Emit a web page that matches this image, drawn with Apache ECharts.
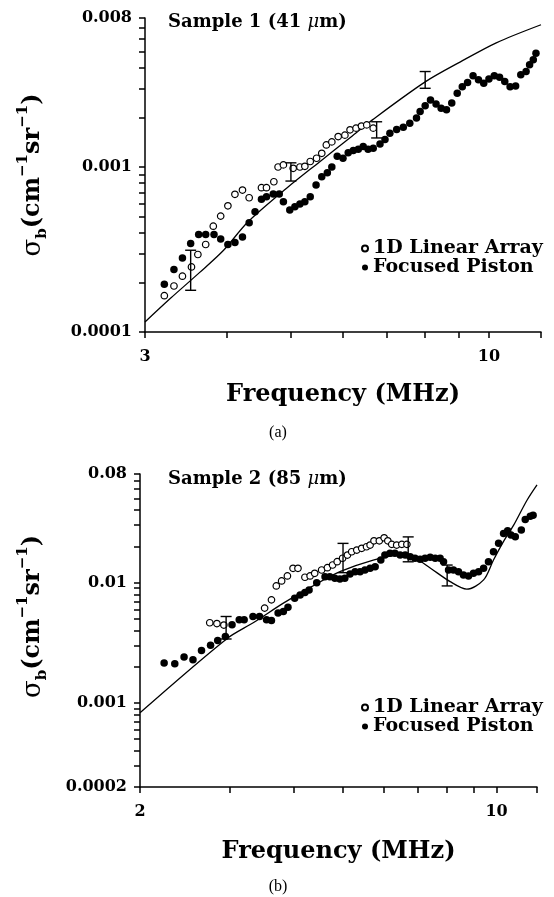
<!DOCTYPE html>
<html><head><meta charset="utf-8">
<script src="https://cdn.jsdelivr.net/npm/echarts@6/dist/echarts.min.js"></script>
<style>html,body{margin:0;padding:0;background:#fff}#c{width:554px;height:897px}</style>
</head><body><div id="c"></div><script>
// ---------- Panel (a): Sample 1 (41 um) ----------
const aTheoryF = [3.00, 3.28, 3.63, 3.95, 4.30, 4.93, 5.52, 6.17, 6.65, 8.00, 9.05, 10.26, 12.0];
const aTheoryS = [0.000115, 0.000160, 0.000229, 0.000313, 0.000464, 0.000746, 0.00107, 0.00152, 0.00193, 0.00328, 0.00434, 0.00566, 0.00728];
const aOpenF = [3.21,3.32,3.42,3.53,3.61,3.71,3.81,3.91,4.01,4.11,4.22,4.32,4.51,4.59,4.71,4.78,4.87,5.04,5.16,5.25,5.35,5.47,5.57,5.66,5.77,5.90,6.04,6.15,6.28,6.40,6.52,6.67];
const aOpenS = [0.000166,0.000190,0.000218,0.000248,0.000295,0.000339,0.000438,0.000504,0.000582,0.000683,0.000725,0.000651,0.000749,0.000749,0.000814,0.00100,0.00103,0.000982,0.00100,0.00101,0.00108,0.00113,0.00121,0.00136,0.00142,0.00153,0.00156,0.00168,0.00172,0.00177,0.00180,0.00172];
const aFillF = [3.21,3.32,3.42,3.52,3.62,3.71,3.82,3.91,4.01,4.11,4.22,4.32,4.41,4.51,4.59,4.70,4.80,4.87,4.98,5.07,5.16,5.25,5.35,5.46,5.57,5.68,5.77,5.88,6.00,6.11,6.22,6.33,6.44,6.55,6.67,6.83,6.95,7.07,7.24,7.41,7.58,7.76,7.86,8.00,8.15,8.31,8.46,8.62,8.78,8.95,9.11,9.28,9.46,9.64,9.82,10.00,10.19,10.38,10.57,10.77,10.98,11.18,11.39,11.53,11.68,11.79];
const aFillS = [0.000195,0.000239,0.000281,0.000344,0.000390,0.000390,0.000390,0.000366,0.000339,0.000349,0.000377,0.000459,0.000535,0.000637,0.000660,0.000686,0.000686,0.000616,0.000548,0.000574,0.000596,0.000616,0.000660,0.000778,0.000873,0.000923,0.00100,0.00116,0.00113,0.00122,0.00126,0.00128,0.00133,0.00128,0.00130,0.00138,0.00147,0.00160,0.00169,0.00174,0.00184,0.00198,0.00217,0.00235,0.00255,0.00241,0.00227,0.00222,0.00244,0.00280,0.00307,0.00325,0.00357,0.00338,0.00322,0.00341,0.00357,0.00350,0.00330,0.00307,0.00310,0.00362,0.00379,0.00416,0.00446,0.00490];
const aErrF = [3.52, 5.0, 6.75, 8.0];
const aErrLo = [0.000179, 0.000822, 0.0015, 0.0030];
const aErrHi = [0.000313, 0.00106, 0.00188, 0.00379];
const aXTicks = [3,4,5,6,7,8,9,10,12];
const aXLabels = [3,10];
const aYTicks = [0.0001,0.0002,0.0003,0.0004,0.0005,0.0006,0.0007,0.0008,0.0009,0.001,0.002,0.003,0.004,0.005,0.006,0.007,0.008];
const aYLabels = [0.0001,0.001,0.008];

// ---------- Panel (b): Sample 2 (85 um) ----------
const bTheoryF = [2.00, 2.96, 3.34, 3.82, 4.34, 4.93, 5.73, 6.47, 6.92, 7.41, 8.11, 8.74, 9.43, 9.86, 10.30, 10.80, 11.47, 12.0];
const bTheoryS = [0.000828, 0.00342, 0.00466, 0.00675, 0.00927, 0.01233, 0.01542, 0.01696, 0.01602, 0.01324, 0.01019, 0.00882, 0.01053, 0.01542, 0.02174, 0.03006, 0.04842, 0.0650];
const bOpenF = [2.74,2.83,2.92,3.51,3.62,3.70,3.79,3.89,3.99,4.08,4.21,4.31,4.40,4.54,4.66,4.77,4.87,4.99,5.10,5.20,5.32,5.44,5.56,5.65,5.75,5.89,6.02,6.12,6.23,6.37,6.52,6.67];
const bOpenS = [0.00464,0.00457,0.00444,0.00614,0.00719,0.00939,0.01033,0.01136,0.01316,0.01316,0.01109,0.01136,0.01196,0.01274,0.01331,0.01402,0.01493,0.01594,0.01696,0.01806,0.01866,0.01928,0.01987,0.02053,0.02228,0.02228,0.02359,0.02228,0.02081,0.02053,0.02081,0.02081];
const bFillF = [2.23,2.34,2.44,2.54,2.64,2.75,2.84,2.94,3.03,3.13,3.20,3.33,3.43,3.54,3.62,3.73,3.82,3.90,4.02,4.12,4.21,4.29,4.44,4.61,4.71,4.82,4.93,5.04,5.16,5.28,5.40,5.52,5.65,5.78,5.93,6.04,6.18,6.32,6.47,6.62,6.77,6.92,7.08,7.24,7.41,7.58,7.75,7.87,8.05,8.23,8.42,8.61,8.81,9.01,9.22,9.43,9.64,9.86,10.09,10.32,10.51,10.67,10.88,11.18,11.38,11.64,11.79];
const bFillS = [0.00215,0.00212,0.00241,0.00229,0.00273,0.00301,0.00331,0.00357,0.00446,0.00491,0.00491,0.00523,0.00523,0.00491,0.00484,0.00558,0.00575,0.00625,0.00743,0.00791,0.00826,0.00870,0.0100,0.01121,0.01121,0.01088,0.01073,0.01088,0.01181,0.01233,0.01233,0.01274,0.01316,0.01357,0.01542,0.01696,0.01752,0.01752,0.01696,0.01696,0.01643,0.01594,0.01563,0.01594,0.01623,0.01594,0.01594,0.01493,0.01274,0.01274,0.01233,0.01158,0.01136,0.01196,0.01233,0.01316,0.01493,0.01806,0.02121,0.02566,0.02697,0.02485,0.02406,0.02733,0.03352,0.03570,0.03639];
const bErrF = [2.95, 5.0, 6.71, 8.0];
const bErrLo = [0.0034, 0.0121, 0.0149, 0.00939];
const bErrHi = [0.00523, 0.0212, 0.0240, 0.0140];
const bXTicks = [2,3,4,5,6,7,8,9,10,12];
const bXLabels = [2,10];
const bYTicks = [0.0002,0.0003,0.0004,0.0005,0.0006,0.0007,0.0008,0.0009,0.001,0.002,0.003,0.004,0.005,0.006,0.007,0.008,0.009,0.01,0.02,0.03,0.04,0.05,0.06,0.07,0.08];
const bYLabels = [0.0002,0.001,0.01,0.08];

const seriesNames = ['1D Linear Array', 'Focused Piston'];
const sampleTitles = ['Sample 1 (41 ', 'Sample 2 (85 '];
const xName = 'Frequency (MHz)';
const captions = ['(a)', '(b)'];

// ---------- build ----------
const F = 'DejaVu Serif';
const zip = (a, b) => a.map((v, i) => [v, b[i]]);
const zip3 = (a, b, c) => a.map((v, i) => [v, b[i], c[i]]);
const fmt = v => String(+(+v).toPrecision(6));

function xAxisCfg(gi, min, max, ticks, labels, gap) {
  return {
    type: 'log', logBase: 10, gridIndex: gi, min: min, max: max,
    axisLine: { show: true, onZero: false, lineStyle: { color: '#000', width: 1.5 } },
    axisTick: { show: true, inside: false, length: 6, customValues: ticks, lineStyle: { color: '#000', width: 1.5 } },
    axisLabel: { customValues: labels, margin: 17, color: '#000', fontFamily: F, fontWeight: 'bold', fontSize: 16, formatter: fmt },
    splitLine: { show: false }, minorTick: { show: false },
    name: xName, nameLocation: 'middle', nameGap: gap,
    nameTextStyle: { color: '#000', fontFamily: F, fontWeight: 'bold', fontSize: 24 }
  };
}
const yRich = {
  s: { fontFamily: F, fontSize: 26, color: '#000', lineHeight: 34 },
  sub: { fontFamily: F, fontSize: 15, fontWeight: 'bold', color: '#000', verticalAlign: 'bottom', lineHeight: 34 },
  t: { fontFamily: F, fontSize: 24, fontWeight: 'bold', color: '#000', lineHeight: 34 },
  sup: { fontFamily: F, fontSize: 15, fontWeight: 'bold', color: '#000', verticalAlign: 'top', lineHeight: 34 }
};
function yAxisCfg(gi, min, max, ticks, labels, gap, pad) {
  return {
    type: 'log', logBase: 10, gridIndex: gi, min: min, max: max,
    axisLine: { show: true, onZero: false, lineStyle: { color: '#000', width: 1.5 } },
    axisTick: { show: true, inside: false, length: 6, customValues: ticks, lineStyle: { color: '#000', width: 1.5 } },
    axisLabel: { customValues: labels, margin: 13, color: '#000', fontFamily: F, fontWeight: 'bold', fontSize: 16, formatter: fmt },
    splitLine: { show: false }, minorTick: { show: false },
    name: '{s|σ}{sub|b}{t|(cm}{sup|−1}{t|sr}{sup|−1}{t|)}',
    nameLocation: 'middle', nameGap: gap, nameRotate: 90,
    nameTextStyle: { rich: yRich, padding: pad }
  };
}
function errSeries(gi, f, lo, hi) {
  return {
    type: 'custom', xAxisIndex: gi, yAxisIndex: gi, silent: true, z: 4,
    data: zip3(f, lo, hi), encode: { x: 0, y: [1, 2] },
    renderItem: (params, api) => {
      const p1 = api.coord([api.value(0), api.value(1)]);
      const p2 = api.coord([api.value(0), api.value(2)]);
      const w = 5.5, st = { stroke: '#000', lineWidth: 1.4 };
      return { type: 'group', children: [
        { type: 'line', shape: { x1: p1[0], y1: p1[1], x2: p2[0], y2: p2[1] }, style: st },
        { type: 'line', shape: { x1: p1[0] - w, y1: p1[1], x2: p1[0] + w, y2: p1[1] }, style: st },
        { type: 'line', shape: { x1: p2[0] - w, y1: p2[1], x2: p2[0] + w, y2: p2[1] }, style: st }
      ] };
    }
  };
}
function panelSeries(gi, thF, thS, opF, opS, fiF, fiS, eF, eLo, eHi) {
  return [
    { type: 'line', name: 'theory', xAxisIndex: gi, yAxisIndex: gi, data: zip(thF, thS), showSymbol: false, symbol: 'none',
      smooth: 0.3, lineStyle: { color: '#000', width: 1.3 }, z: 2, silent: true },
    { type: 'scatter', name: seriesNames[0], xAxisIndex: gi, yAxisIndex: gi, data: zip(opF, opS), symbol: 'circle', symbolSize: 6.5,
      itemStyle: { color: '#fff', borderColor: '#000', borderWidth: 1.2, opacity: 1 }, z: 3 },
    { type: 'scatter', name: seriesNames[1], xAxisIndex: gi, yAxisIndex: gi, data: zip(fiF, fiS), symbol: 'circle', symbolSize: 7.5,
      itemStyle: { color: '#000', opacity: 1 }, z: 3 },
    errSeries(gi, eF, eLo, eHi)
  ];
}
const legendCfg = top => ({
  data: seriesNames, orient: 'vertical', left: 361, top: top, itemWidth: 6, itemHeight: 6, itemGap: 0, icon: 'circle',
  selectedMode: false, padding: 0,
  textStyle: { fontFamily: F, fontWeight: 'bold', fontSize: 19, color: '#000', lineHeight: 18 }
});
const titleText = (txt, y) => ({
  type: 'text', left: 168, top: y,
  style: { text: '{t|' + txt + '}{i|μ}{t|m)}',
    rich: { t: { fontFamily: F, fontWeight: 'bold', fontSize: 18, fill: '#000' },
            i: { fontFamily: F, fontStyle: 'italic', fontSize: 18, fill: '#000' } } }
});

const chart = echarts.init(document.getElementById('c'), null, { renderer: 'canvas' });
chart.setOption({
  backgroundColor: '#fff',
  animation: false,
  grid: [
    { left: 145, top: 18, width: 396, height: 314 },
    { left: 140, top: 474, width: 397, height: 313 }
  ],
  xAxis: [ xAxisCfg(0, 3, 12, aXTicks, aXLabels, 51), xAxisCfg(1, 2, 12, bXTicks, bXLabels, 53) ],
  yAxis: [ yAxisCfg(0, 0.0001, 0.008, aYTicks, aYLabels, 95, 0), yAxisCfg(1, 0.0002, 0.08, bYTicks, bYLabels, 90, [0, 0, 0, 28]) ],
  legend: [ legendCfg(239), legendCfg(698) ],
  series: [].concat(
    panelSeries(0, aTheoryF, aTheoryS, aOpenF, aOpenS, aFillF, aFillS, aErrF, aErrLo, aErrHi),
    panelSeries(1, bTheoryF, bTheoryS, bOpenF, bOpenS, bFillF, bFillS, bErrF, bErrLo, bErrHi)
  ),
  graphic: [
    titleText(sampleTitles[0], 13),
    titleText(sampleTitles[1], 470),
    { type: 'text', x: 278, y: 433, style: { text: captions[0], align: 'center', verticalAlign: 'middle', font: '16px "Liberation Serif"', fill: '#000' } },
    { type: 'text', x: 278, y: 887, style: { text: captions[1], align: 'center', verticalAlign: 'middle', font: '16px "Liberation Serif"', fill: '#000' } }
  ]
});
</script></body></html>
